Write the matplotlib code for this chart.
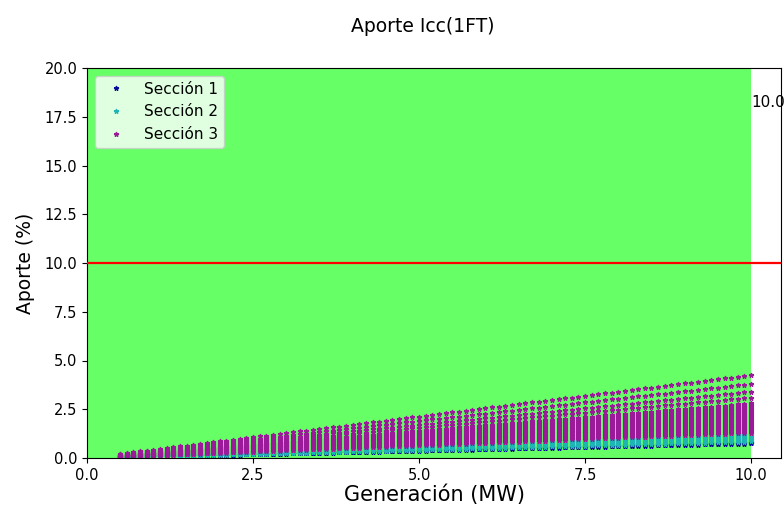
import matplotlib
matplotlib.use("Agg")
import matplotlib.pyplot as plt
import numpy as np

# generacion en MW (columnas de puntos cada 0.1 MW)
generacion = np.round(np.arange(0.5, 10.01, 0.1), 2)

# aporte (%) por MW generado
factores_sec1 = [0.075, 0.078, 0.081, 0.084]
factores_sec2 = [0.085, 0.09, 0.095, 0.10, 0.105, 0.11, 0.115, 0.12, 0.125]
factores_sec3 = [0.13, 0.14, 0.15, 0.16, 0.17, 0.18, 0.19,
                 0.20, 0.21, 0.22, 0.23, 0.24, 0.25, 0.26, 0.27, 0.28,
                 0.31, 0.34, 0.38, 0.425]

limite = 10.0
gen_max = 10.0

colores = ["#0a0a9a", "#1fb5b5", "#9a1a9a"]
nombres = ["Sección 1", "Sección 2", "Sección 3"]

fig = plt.figure(figsize=(7.84, 5.09), dpi=100)
ax = fig.add_axes([87 / 784, 1 - 458 / 509, (781 - 87) / 784, (458 - 68) / 509])

ax.axvspan(0, gen_max, color="lime", alpha=0.6, lw=0, zorder=0)

for factores, col, nom in zip([factores_sec1, factores_sec2, factores_sec3], colores, nombres):
    xs = np.repeat(generacion, len(factores))
    ys = np.outer(generacion, factores).ravel()
    ax.plot(xs, ys, "*", color=col, markersize=3.5, markeredgewidth=0.9, label=nom, zorder=2)

ax.axhline(limite, color="red", lw=1.6, zorder=3)
ax.text(gen_max, 18, "10.0", fontsize=11, clip_on=False)

ax.set_xlim(0, 10.45)
ax.set_ylim(0, 20)
ax.set_xticks([0, 2.5, 5.0, 7.5, 10.0])
ax.set_yticks(np.arange(0, 20.1, 2.5))
ax.tick_params(axis="both", labelsize=10.5)

ax.set_xlabel("Generación (MW)", fontsize=15, labelpad=1)
ax.set_ylabel("Aporte (%)", fontsize=13.5, labelpad=7)
fig.text(423 / 784, 1 - 26 / 509, "Aporte Icc(1FT)", fontsize=13.5, ha="center", va="center")

ax.legend(loc="upper left", fontsize=11, markerscale=1.0)

fig.savefig("out.png", dpi=100)
